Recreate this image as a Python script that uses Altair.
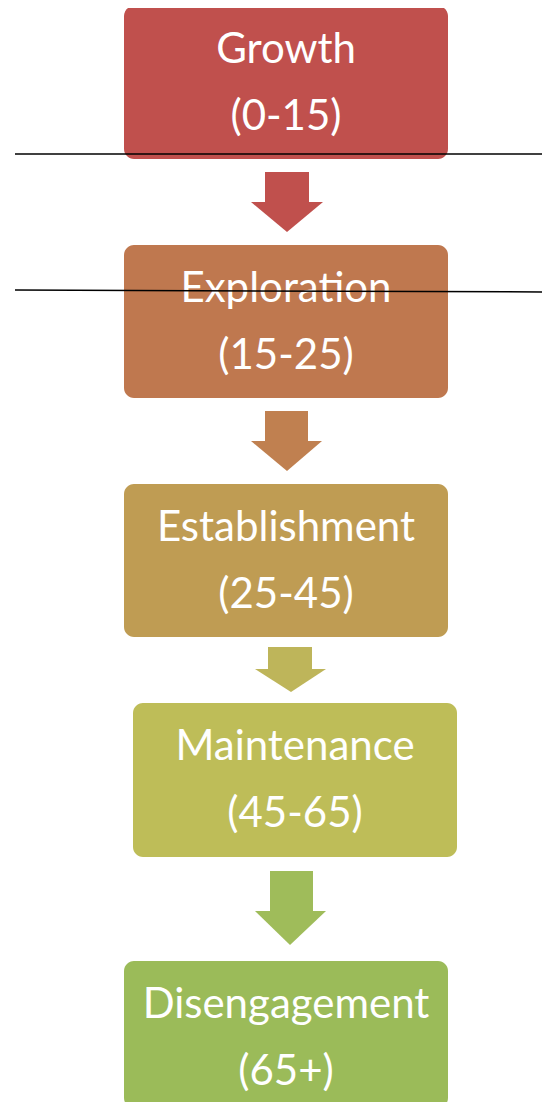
import altair as alt
import pandas as pd

# ---- content ----
stages = ["Growth", "Exploration", "Establishment", "Maintenance", "Disengagement"]
age_ranges = ["(0-15)", "(15-25)", "(25-45)", "(45-65)", "(65+)"]
box_colors = ["#C0504D", "#BF784F", "#BF9C53", "#BEBD58", "#9BBB59"]
arrow_colors = ["#C0504D", "#C08050", "#BEB55A", "#9FBC5A"]

# ---- layout (page pixel coordinates) ----
box_left = [124, 124, 124, 133, 124]
box_right = [448, 448, 448, 457, 448]
box_top = [6, 245, 484, 703, 961]
box_bottom = [159, 398, 637, 857, 1108]
line1_offset = 57
line2_offset = 124

shaft_left = [265, 265, 268, 270]
shaft_right = [309, 308, 312, 313]
shaft_top = [172, 411, 647, 871]
head_y = [202, 441, 669, 911]
head_left = [251, 251, 255, 255]
head_right = [323, 322, 326, 326]
tip_x = [287, 287, 291, 290]
tip_y = [232, 471, 692, 945]

rule_x = [15, 15]
rule_x2 = [550, 550]
rule_y = [154, 290]
rule_y2 = [154, 292]

# chart fills the 550x1110 window minus the 8px page margin
W, H = 534, 1094
xs = alt.Scale(domain=[8, 8 + W], range=[0, W])
ys = alt.Scale(domain=[8, 8 + H], reverse=True)

boxes = pd.DataFrame({
    "stage": stages, "x": box_left, "x2": box_right,
    "y": box_top, "y2": box_bottom, "color": box_colors,
})

text_rows = []
for i in range(len(stages)):
    cx = (box_left[i] + box_right[i]) / 2
    text_rows.append({"label": stages[i], "x": cx, "y": box_top[i] + line1_offset})
    text_rows.append({"label": age_ranges[i], "x": cx, "y": box_top[i] + line2_offset})
texts = pd.DataFrame(text_rows)

shafts = pd.DataFrame({
    "x": shaft_left, "x2": shaft_right, "y": shaft_top,
    "y2": [h + 1 for h in head_y], "color": arrow_colors,
})

tri_rows = []
for i in range(len(arrow_colors)):
    tri_rows.append({"arrow": i, "y": head_y[i], "x": head_left[i], "x2": head_right[i], "color": arrow_colors[i]})
    tri_rows.append({"arrow": i, "y": tip_y[i], "x": tip_x[i], "x2": tip_x[i], "color": arrow_colors[i]})
tris = pd.DataFrame(tri_rows)

rules = pd.DataFrame({"x": rule_x, "x2": rule_x2, "y": rule_y, "y2": rule_y2})

X = lambda f: alt.X(f, type="quantitative", scale=xs, axis=None)
Y = lambda f: alt.Y(f, type="quantitative", scale=ys, axis=None)

box_layer = alt.Chart(boxes).mark_rect(cornerRadius=10).encode(
    x=X("x"), x2="x2", y=Y("y"), y2="y2",
    color=alt.Color("color:N", scale=None),
)

shaft_layer = alt.Chart(shafts).mark_rect().encode(
    x=X("x"), x2="x2", y=Y("y"), y2="y2",
    color=alt.Color("color:N", scale=None),
)

tri_layer = alt.Chart(tris).mark_area(orient="horizontal", interpolate="linear").encode(
    y=Y("y"), x=X("x"), x2="x2",
    detail="arrow:N",
    color=alt.Color("color:N", scale=None),
)

text_layer = alt.Chart(texts).mark_text(
    font="Lato", fontSize=42, color="white", baseline="alphabetic", align="center"
).encode(x=X("x"), y=Y("y"), text="label:N")

rule_layer = alt.Chart(rules).mark_rule(color="black", strokeWidth=1.5).encode(
    x=X("x"), x2="x2", y=Y("y"), y2="y2",
)

chart = alt.layer(box_layer, shaft_layer, tri_layer, text_layer, rule_layer).properties(
    width=W, height=H, padding=0, autosize=alt.AutoSizeParams(type="none"),
    background="white",
).configure_view(stroke=None)

chart.save("out.html", embed_options={"renderer": "svg", "actions": False})
